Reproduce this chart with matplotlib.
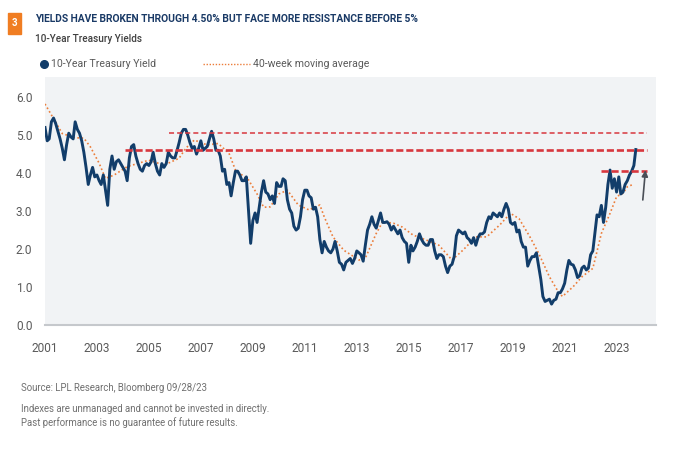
import pandas as pd
import matplotlib.pyplot as plt
import matplotlib.dates as mdates
from matplotlib.lines import Line2D
from matplotlib.patches import Rectangle

plt.rcParams['font.family'] = ['Roboto', 'DejaVu Sans']

# monthly 10-year yield (month start), Jan 2001 .. Sep 2023, plus last weekly print
yields = [
    5.20, 4.85, 4.90, 5.35, 5.45, 5.30, 5.10, 4.90, 4.65, 4.35, 4.75, 5.05,  # 2001
    4.95, 4.90, 5.35, 5.15, 5.05, 4.85, 4.55, 4.15, 3.70, 3.95, 4.15, 3.90,  # 2002
    3.95, 3.80, 3.70, 3.95, 3.55, 3.15, 4.10, 4.45, 4.10, 4.30, 4.35, 4.25,  # 2003
    4.15, 4.05, 3.80, 4.40, 4.70, 4.75, 4.45, 4.25, 4.10, 4.05, 4.20, 4.25,  # 2004
    4.20, 4.30, 4.55, 4.25, 4.05, 3.95, 4.25, 4.15, 4.25, 4.55, 4.45, 4.40,  # 2005
    4.40, 4.60, 4.80, 5.05, 5.15, 5.15, 5.00, 4.80, 4.65, 4.70, 4.50, 4.65,  # 2006
    4.85, 4.60, 4.65, 4.70, 4.90, 5.10, 4.90, 4.60, 4.60, 4.45, 4.05, 4.10,  # 2007
    3.70, 3.75, 3.40, 3.75, 4.05, 4.05, 3.95, 3.80, 3.80, 3.90, 3.00, 2.15,  # 2008
    2.75, 2.95, 2.70, 3.10, 3.50, 3.80, 3.50, 3.45, 3.30, 3.40, 3.20, 3.75,  # 2009
    3.65, 3.65, 3.85, 3.80, 3.30, 3.05, 2.95, 2.60, 2.50, 2.55, 2.85, 3.30,  # 2010
    3.55, 3.55, 3.40, 3.35, 3.05, 3.10, 2.85, 2.25, 1.90, 2.20, 2.05, 1.95,  # 2011
    1.90, 2.00, 2.20, 1.95, 1.65, 1.60, 1.45, 1.65, 1.70, 1.75, 1.62, 1.75,  # 2012
    1.95, 1.90, 1.85, 1.68, 2.10, 2.50, 2.65, 2.85, 2.65, 2.55, 2.75, 2.95,  # 2013
    2.70, 2.70, 2.72, 2.65, 2.50, 2.60, 2.50, 2.40, 2.50, 2.30, 2.20, 2.15,  # 2014
    1.65, 2.10, 1.95, 2.05, 2.20, 2.40, 2.25, 2.15, 2.10, 2.10, 2.25, 2.25,  # 2015
    1.95, 1.75, 1.85, 1.85, 1.80, 1.55, 1.38, 1.55, 1.60, 1.80, 2.35, 2.50,  # 2016
    2.45, 2.40, 2.45, 2.30, 2.25, 2.15, 2.30, 2.10, 2.30, 2.40, 2.40, 2.45,  # 2017
    2.70, 2.85, 2.80, 2.95, 2.90, 2.85, 2.95, 2.85, 3.05, 3.20, 3.05, 2.70,  # 2018
    2.65, 2.70, 2.45, 2.50, 2.20, 2.05, 2.05, 1.55, 1.70, 1.80, 1.80, 1.90,  # 2019
    1.55, 1.20, 0.75, 0.62, 0.65, 0.68, 0.55, 0.65, 0.68, 0.85, 0.85, 0.95,  # 2020
    1.10, 1.45, 1.70, 1.60, 1.58, 1.45, 1.25, 1.30, 1.50, 1.55, 1.45, 1.50,  # 2021
    1.85, 1.95, 2.40, 2.90, 2.85, 3.15, 2.70, 3.10, 3.70, 4.08, 3.60, 3.85,  # 2022
    3.50, 3.90, 3.45, 3.50, 3.70, 3.80, 3.95, 4.05, 4.20,                    # 2023
]
last_date = "2023-09-28"
last_yield = 4.62

# 40-week moving average
ma_dates = [
    "2001-01", "2001-09", "2002-03", "2002-07", "2002-10", "2003-02", "2003-05",
    "2003-09", "2004-03", "2005-01", "2005-08", "2006-03", "2006-06", "2006-10",
    "2007-04", "2007-09", "2008-02", "2008-05", "2008-11", "2009-03", "2009-06",
    "2009-09", "2010-01", "2010-05", "2010-10", "2011-03", "2011-08", "2011-10",
    "2012-02", "2012-07", "2013-02", "2013-05", "2013-10", "2014-01", "2014-06",
    "2014-10", "2015-03", "2015-09", "2016-03", "2016-09", "2017-02", "2017-08",
    "2018-01", "2018-07", "2018-12", "2019-04", "2019-09", "2020-01", "2020-06",
    "2020-10", "2020-12", "2021-05", "2021-09", "2022-02", "2022-06", "2022-10",
    "2023-01", "2023-04", "2023-06", "2023-09",
]
ma_values = [
    5.82, 5.04, 4.93, 4.92, 4.69, 4.26, 3.86,
    3.95, 4.17, 4.34, 4.21, 4.39, 4.65, 4.87,
    4.74, 4.78, 4.52, 4.08, 3.82, 3.45, 3.10,
    3.11, 3.45, 3.55, 3.16, 3.03, 3.16, 2.85,
    2.32, 1.97, 1.71, 1.76, 2.41, 2.72, 2.68,
    2.58, 2.37, 2.24, 2.10, 1.71, 1.97, 2.32,
    2.32, 2.63, 2.94, 2.80, 2.32, 1.89, 1.27,
    0.88, 0.75, 1.01, 1.27, 1.49, 2.41, 2.94,
    3.38, 3.47, 3.64, 3.71,
]

# resistance / support levels (value, start date)
levels = [5.05, 4.62, 4.06]
level_starts = ["2005-10-15", "2004-02-01", "2022-06-01"]
level_end = "2024-03-01"

years = list(range(2001, 2024, 2))

navy = '#123d6a'
orange = '#ec7d3a'
red = '#d8373e'
grey_text = '#5a5a5a'

dates = list(pd.date_range("2001-01-01", periods=len(yields), freq="MS")) + [pd.Timestamp(last_date)]
vals = yields + [last_yield]

fig = plt.figure(figsize=(6.8, 4.55), dpi=100)
ax = fig.add_axes([45 / 680, 1 - 325 / 455, 611 / 680, 248 / 455])
ax.set_facecolor('#f1f3f5')

ax.plot(dates, vals, color=navy, lw=2.1, zorder=3)
ax.plot(pd.to_datetime(ma_dates), ma_values, color=orange, lw=1.2,
        linestyle=(0, (1, 1.5)), zorder=2)

# thin line for 5%, heavier ones for the other two levels
widths = [1.1, 1.9, 1.9]
dashes = [(0, (3.3, 2.0)), (0, (2.7, 1.1)), (0, (2.7, 1.1))]
for lvl, st, w, d in zip(levels, level_starts, widths, dashes):
    ax.plot([pd.Timestamp(st), pd.Timestamp(level_end)], [lvl, lvl], color=red,
            lw=w, linestyle=d, zorder=4)

ax.annotate("", xy=(pd.Timestamp("2024-02-14"), 4.15), xytext=(pd.Timestamp("2024-01-01"), 3.22),
            arrowprops=dict(arrowstyle='-|>', color='#4a4f57', lw=1.2, mutation_scale=9), zorder=5)

ax.set_xlim(pd.Timestamp("2001-01-01"), pd.Timestamp("2024-07-08"))
ax.set_ylim(0, 6.53)
ax.set_yticks(range(0, 7))
ax.set_yticklabels([f"{v:.1f}" for v in range(0, 7)])
ax.set_xticks([pd.Timestamp(f"{y}-01-01") for y in years])
ax.xaxis.set_major_formatter(mdates.DateFormatter("%Y"))
ax.tick_params(axis='y', length=0, pad=9, labelsize=8.6, labelcolor=grey_text)
ax.tick_params(axis='x', length=0, pad=12, labelsize=8.6, labelcolor=grey_text)
for s in ['top', 'right', 'left']:
    ax.spines[s].set_visible(False)
ax.spines['bottom'].set_color('#c5c8cc')
ax.spines['bottom'].set_linewidth(1.5)

# header
fig.add_artist(Rectangle((8 / 680, 1 - 34 / 455), 13 / 680, 21 / 455,
                         transform=fig.transFigure, color='#f07d22'))
fig.text(14.5 / 680, 1 - 23.5 / 455, "3", color='white', fontsize=7, fontweight='bold',
         ha='center', va='center')
fig.text(35 / 680, 1 - 19 / 455, "YIELDS HAVE BROKEN THROUGH 4.50% BUT FACE MORE RESISTANCE BEFORE 5%",
         color='#1a3a66', fontsize=7.4, fontweight='bold', ha='left', va='center')
fig.text(35 / 680, 1 - 38.5 / 455, "10-Year Treasury Yields", color='#404040', fontsize=7.2,
         fontweight='medium', ha='left', va='center')

# legend
fig.add_artist(Line2D([44 / 680], [1 - 64 / 455], marker='o', color=navy, markersize=5.5,
                      transform=fig.transFigure))
fig.text(51 / 680, 1 - 64 / 455, "10-Year Treasury Yield", color=grey_text, fontsize=7.6,
         ha='left', va='center')
fig.add_artist(Line2D([203 / 680, 250 / 680], [1 - 64 / 455] * 2, color=orange, lw=1.0,
                      linestyle=(0, (1, 1.2)), transform=fig.transFigure))
fig.text(253 / 680, 1 - 64 / 455, "40-week moving average", color=grey_text, fontsize=7.6,
         ha='left', va='center')

# footer
fig.text(21 / 680, 1 - 388 / 455, "Source: LPL Research, Bloomberg 09/28/23", color='#707070',
         fontsize=6.9, ha='left', va='center')
fig.text(21 / 680, 1 - 409 / 455, "Indexes are unmanaged and cannot be invested in directly.",
         color='#707070', fontsize=6.9, ha='left', va='center')
fig.text(21 / 680, 1 - 423 / 455, "Past performance is no guarantee of future results.",
         color='#707070', fontsize=6.9, ha='left', va='center')

fig.savefig("out.png", dpi=100, facecolor='white')
